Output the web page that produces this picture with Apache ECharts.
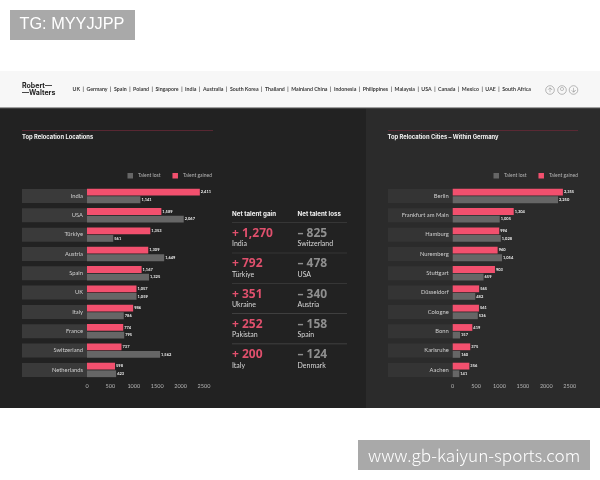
<!DOCTYPE html>
<html><head><meta charset="utf-8">
<style>html,body{margin:0;padding:0;background:#fff}#c{width:600px;height:480px}</style>
<script src="https://cdn.jsdelivr.net/npm/echarts@6/dist/echarts.min.js"></script>
</head><body><div id="c"></div>
<script>
const countries = ['India','USA','Türkiye','Austria','Spain','UK','Italy','France','Switzerland','Netherlands'];
const countryGained = [2411,1589,1353,1309,1167,1057,986,774,737,598];
const countryLost = [1141,2067,561,1649,1325,1059,786,795,1562,623];
const cities = ['Berlin','Frankfurt am Main','Hamburg','Nuremberg','Stuttgart','Düsseldorf','Cologne','Bonn','Karlsruhe','Aachen'];
const cityGained = [2355,1304,994,960,903,565,561,419,375,356];
const cityLost = [2250,1005,1028,1054,659,482,536,157,160,141];
const navItems = ['UK','Germany','Spain','Poland','Singapore','India','Australia','South Korea','Thailand','Mainland China','Indonesia','Philippines','Malaysia','USA','Canada','Mexico','UAE','South Africa'];
const gainNames = ['India','Türkiye','Ukraine','Pakistan','Italy'];
const gainValues = ['+ 1,270','+ 792','+ 351','+ 252','+ 200'];
const lossNames = ['Switzerland','USA','Austria','Spain','Denmark'];
const lossValues = ['– 825','– 478','– 340','– 158','– 124'];

const FONT = 'Lato, "Noto Sans", sans-serif';
const HEAVY = 'Inter, "Noto Sans", sans-serif';
const NUM = '"Noto Sans", sans-serif';
const MARK = '"Noto Sans CJK SC", "Liberation Sans", sans-serif';
const RED = '#f2506e', GREY = '#666666';
const fmt = v => v.toLocaleString('en-US');

function txt(x,y,text,size,color,weight,family){
  return {type:'text',x,y,z:20,style:{text,fontSize:size,fill:color,fontWeight:weight||'normal',fontFamily:family||FONT,textVerticalAlign:'middle'}};
}
function rect(x,y,w,h,fill,z){
  return {type:'rect',z:z===undefined?-10:z,shape:{x,y,width:w,height:h},style:{fill}};
}
function ring(cx,cy){
  return {type:'circle',z:20,shape:{cx,cy,r:4.3},style:{fill:'none',stroke:'#8a8a8a',lineWidth:0.6}};
}
function arrow(cx,cy,d){
  return {type:'polyline',z:20,shape:{points:[[cx-2,cy+d*0.2],[cx,cy+d*2.2],[cx+2,cy+d*0.2],[cx,cy+d*2.2],[cx,cy-d*2.2]]},style:{fill:'none',stroke:'#8a8a8a',lineWidth:0.5}};
}

const graphic = [
  rect(0,71,600,37,'#f7f7f7'),
  rect(0,107.5,600,1.2,'#4a4a4a',-9),
  rect(0,108,366,300,'#222222'),
  rect(366,108,234,300,'#2b2b2b'),
  rect(10,10,125,30,'#a9a9a9',19),
  txt(19.5,25,'TG: MYYJJPP',16.3,'#ffffff','normal','"Liberation Sans", sans-serif'),
  rect(358,440,232,30,'#a9a9a9',19),
  txt(368,455,'www.gb-kaiyun-sports.com',17.2,'#ffffff','300',MARK),
  txt(22,86.3,'Robert—',7,'#222222','bold',HEAVY),
  txt(22,93.3,'—Walters',7,'#222222','bold',HEAVY),
  txt(72.5,89.6,navItems.join('  |  '),5.23,'#3a3a3a','bold'),
  ring(550,90),arrow(550,90,-1),ring(562,90),ring(573.5,90),arrow(573.5,90,1),
  {type:'circle',z:20,shape:{cx:562,cy:89,r:1.6},style:{fill:'none',stroke:'#8a8a8a',lineWidth:0.5}},
  rect(22,130,191,0.7,'#6b2a38',1),
  rect(388,130,190,0.7,'#6b2a38',1),
  txt(22,137,'Top Relocation Locations',5.8,'#f2f2f2','bold',HEAVY),
  txt(387.5,137,'Top Relocation Cities – Within Germany',5.8,'#f2f2f2','bold',HEAVY),
  txt(232,213.8,'Net talent gain',6.2,'#f2f2f2','bold',HEAVY),
  txt(297.5,213.8,'Net talent loss',6.2,'#f2f2f2','bold',HEAVY)
];
gainValues.forEach((v,i)=>{
  const top = 222.4 + i*30.3;
  graphic.push(rect(232,top,115,0.6,'#4a4a4a',1));
  graphic.push(txt(232,top+11.2,v,12,'#e0506d','bold',NUM));
  graphic.push(txt(232,top+21.8,gainNames[i],7,'#d8d8d8'));
  graphic.push(txt(297.5,top+11.2,lossValues[i],12,'#8f8f8f','bold',NUM));
  graphic.push(txt(297.5,top+21.8,lossNames[i],7,'#d8d8d8'));
});

function yAxis(idx,data,strip,w){
  return {type:'category',gridIndex:idx,data,inverse:true,
    axisLine:{show:false},axisTick:{show:false},splitLine:{show:false},
    axisLabel:{margin:0,width:w-4,height:14,lineHeight:14,padding:[0,4,0,0],align:'right',overflow:'none',interval:0,
      backgroundColor:strip,color:'#cfcfcf',fontSize:5.8,fontFamily:FONT}};
}
function xAxis(idx){
  return {type:'value',gridIndex:idx,min:0,max:2500,interval:500,
    axisLine:{show:false},axisTick:{show:false},splitLine:{show:false},
    axisLabel:{margin:3.5,color:'#b5b5b5',fontSize:5.5,fontFamily:FONT,showMaxLabel:true,showMinLabel:true,formatter:v=>String(v)}};
}
function bars(idx,name,data,color){
  return {type:'bar',name,xAxisIndex:idx,yAxisIndex:idx,data,barWidth:6.8,barGap:'12%',
    itemStyle:{color},
    label:{show:true,position:'right',distance:1,color:'#f0f0f0',fontSize:4,fontWeight:'bold',fontFamily:FONT,formatter:p=>fmt(p.value)}};
}
function legend(right){
  return {top:173,right,padding:0,itemWidth:5.5,itemHeight:5.5,itemGap:12,icon:'rect',data:['Talent lost','Talent gained'],selectedMode:false,
    textStyle:{color:'#b5b5b5',fontSize:5,fontFamily:FONT,padding:[0,0,0,0]}};
}

const chart = echarts.init(document.getElementById('c'),null,{renderer:'canvas'});
chart.setOption({
  animation:false,
  backgroundColor:'#ffffff',
  graphic,
  legend:[legend(388),legend(22)],
  grid:[
    {left:87,top:186.3,width:117,height:193.3,containLabel:false},
    {left:452.7,top:186.3,width:117,height:193.3,containLabel:false}
  ],
  xAxis:[xAxis(0),xAxis(1)],
  yAxis:[yAxis(0,countries,'#3a3a3a',65),yAxis(1,cities,'#343434',64.7)],
  series:[
    bars(0,'Talent gained',countryGained,RED),
    bars(0,'Talent lost',countryLost,GREY),
    bars(1,'Talent gained',cityGained,RED),
    bars(1,'Talent lost',cityLost,GREY)
  ]
});
</script></body></html>
